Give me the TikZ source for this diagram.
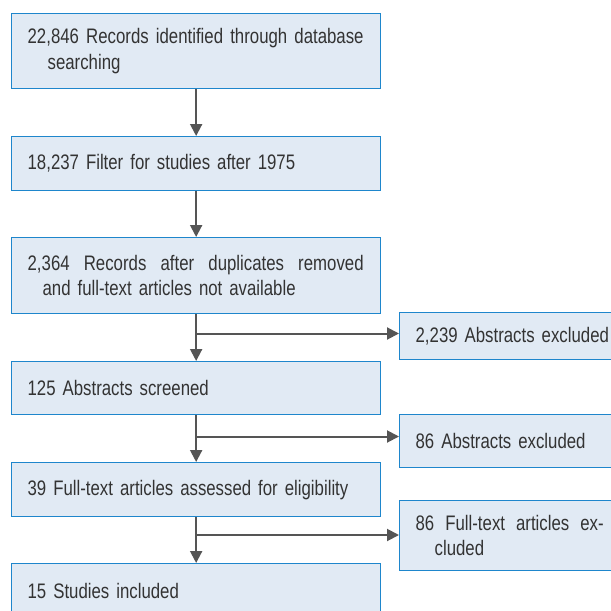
\documentclass[tikz,border=0pt]{standalone}
\usepackage{fontspec}
\setmainfont{Liberation Sans}[FakeStretch=0.80]
\usetikzlibrary{arrows.meta}
\definecolor{boxfill}{HTML}{E1EAF4}
\definecolor{boxline}{HTML}{1E86CC}
\definecolor{arrowc}{HTML}{555555}
\definecolor{txt}{HTML}{333333}
\newcommand{\jline}[2]{\hbox to #1{\spaceskip=0.22em plus 1fil\relax #2}}
\tikzset{
  flowbox/.style={draw=boxline, fill=boxfill, line width=1.3pt, anchor=north west,
    inner xsep=16pt, inner ysep=0pt, align=left, text=txt,
    font=\fontsize{21}{25.5}\selectfont},
  arr/.style={draw=arrowc, line width=2pt, -{Triangle[length=12pt,width=12pt]}}
}
\begin{document}
\begin{tikzpicture}[x=1pt,y=-1pt]
\useasboundingbox (0,0) rectangle (611,611);
\clip (0,0) rectangle (611,611);
% main column
\node[flowbox, minimum width=369pt, minimum height=75pt, text width=337pt] (b1) at (11,13)
  {\jline{336pt}{22,846 Records identified through database}\\\hspace*{20pt}searching};
\node[flowbox, minimum width=369pt, minimum height=54pt, text width=337pt] (b2) at (11,136)
  {18,237 Filter for studies after 1975};
\node[flowbox, minimum width=369pt, minimum height=76pt, text width=337pt] (b3) at (11,237)
  {\jline{336pt}{2,364 Records after duplicates removed}\\\hspace*{15pt}and full-text articles not available};
\node[flowbox, minimum width=369pt, minimum height=53pt, text width=337pt] (b4) at (11,361)
  {125 Abstracts screened};
\node[flowbox, minimum width=369pt, minimum height=54pt, text width=337pt] (b5) at (11,462)
  {39 Full-text articles assessed for eligibility};
\node[flowbox, minimum width=369pt, minimum height=54pt, text width=337pt] (b6) at (11,563)
  {15 Studies included};
% side boxes
\node[flowbox, minimum width=230pt, minimum height=47pt, text width=198pt] (r1) at (399,312)
  {2,239 Abstracts excluded};
\node[flowbox, minimum width=230pt, minimum height=53pt, text width=198pt] (r2) at (399,414)
  {86 Abstracts excluded};
\node[flowbox, minimum width=230pt, minimum height=70pt, text width=198pt] (r3) at (399,500)
  {\jline{188pt}{86 Full-text articles ex-}\\\hspace*{19pt}cluded};
% connectors
\draw[arr] (b1.south) -- (b2.north);
\draw[arr] (b2.south) -- (b3.north);
\draw[arr] (b3.south) -- (b4.north);
\draw[arr] (b4.south) -- (b5.north);
\draw[arr] (b5.south) -- (b6.north);
\coordinate (j1) at (195.5,333.5);
\coordinate (j2) at (195.5,436.5);
\coordinate (j3) at (195.5,535);
\draw[arr] (j1) -- (j1 -| r1.west);
\draw[arr] (j2) -- (j2 -| r2.west);
\draw[arr] (j3) -- (j3 -| r3.west);
\end{tikzpicture}
\end{document}
